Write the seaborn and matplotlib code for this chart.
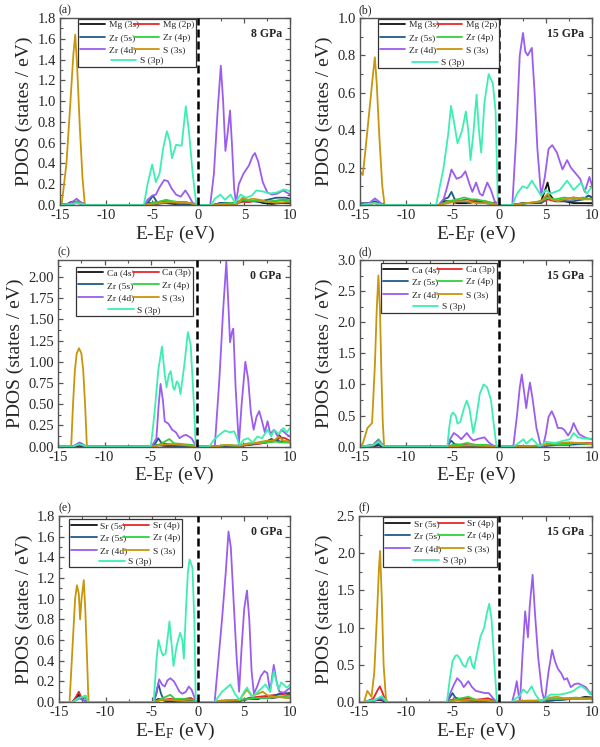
import matplotlib
matplotlib.use("Agg")
import matplotlib.pyplot as plt
import seaborn as sns
import pandas as pd
from matplotlib.patches import Rectangle
from matplotlib.ticker import MultipleLocator, FormatStrFormatter, AutoMinorLocator

# ---------------- data: (E - EF in eV, PDOS in states/eV) ----------------
# panel (a) Mg, 8 GPa
a_metal_s = [(-15, 0), (-13.8, 0.01), (-13.2, 0.02), (-12.6, 0.01), (-12.2, 0), (-5.8, 0), (-5.2, 0.02), (-4.6, 0.01), (-3.6, 0.02), (-2.6, 0.01), (-1.5, 0.01), (-0.3, 0.01), (0, 0), (1.6, 0), (2.5, 0.02), (3.2, 0.01), (4.0, 0.01), (4.7, 0.05), (5.3, 0.03), (6.2, 0.04), (7.0, 0.02), (8.0, 0.01), (9.0, 0.02), (10, 0.02)]
a_metal_p = [(-15, 0), (-13.8, 0.01), (-13.2, 0.03), (-12.5, 0.01), (-12.2, 0), (-5.8, 0), (-5.0, 0.02), (-4.2, 0.03), (-3.4, 0.04), (-2.6, 0.02), (-1.6, 0.03), (-0.5, 0.01), (0, 0), (1.6, 0), (2.8, 0.01), (4.0, 0.01), (4.8, 0.03), (5.6, 0.03), (6.5, 0.05), (7.5, 0.03), (8.5, 0.04), (9.4, 0.05), (10, 0.04)]
a_zr5s = [(-15, 0), (-14.2, 0.01), (-13.8, 0.03), (-13.2, 0.03), (-12.5, 0.01), (-12.2, 0), (-5.8, 0), (-5.4, 0.03), (-4.9, 0.09), (-4.5, 0.03), (-3.8, 0.02), (-3.0, 0.02), (-2.0, 0.01), (-0.5, 0.01), (0, 0), (1.6, 0), (2.5, 0.02), (3.5, 0.02), (4.2, 0.01), (4.8, 0.06), (5.5, 0.04), (6.5, 0.03), (7.5, 0.05), (8.5, 0.07), (9.5, 0.07), (10, 0.06)]
a_zr4p = [(-15, 0), (-13.6, 0.01), (-13.1, 0.04), (-12.6, 0.02), (-12.2, 0), (-5.8, 0), (-5.0, 0.02), (-4.3, 0.03), (-3.5, 0.05), (-3.0, 0.04), (-2.3, 0.03), (-1.5, 0.03), (-0.5, 0.01), (0, 0), (1.6, 0), (2.5, 0.01), (3.5, 0.02), (4.2, 0.01), (4.8, 0.05), (5.5, 0.04), (6.5, 0.04), (7.3, 0.03), (8.3, 0.04), (9.3, 0.05), (10, 0.04)]
a_zr4d = [(-15, 0), (-14, 0.01), (-13.5, 0.04), (-13.2, 0.06), (-12.8, 0.03), (-12.3, 0), (-5.8, 0), (-5.5, 0.05), (-5.0, 0.09), (-4.6, 0.1), (-4.2, 0.17), (-3.7, 0.24), (-3.3, 0.23), (-2.9, 0.16), (-2.4, 0.1), (-1.9, 0.08), (-1.4, 0.14), (-1.1, 0.1), (-0.6, 0.02), (0, 0), (1.3, 0), (1.7, 0.3), (2.1, 0.9), (2.45, 1.34), (2.7, 1.0), (2.95, 0.52), (3.2, 0.7), (3.45, 0.91), (3.65, 0.6), (3.9, 0.15), (4.1, 0.02), (4.4, 0.2), (4.9, 0.3), (5.5, 0.38), (5.9, 0.47), (6.15, 0.5), (6.5, 0.42), (7.0, 0.22), (7.5, 0.12), (8.0, 0.1), (8.6, 0.11), (9.2, 0.14), (9.6, 0.12), (10, 0.1)]
a_s3s = [(-15, 0), (-14.8, 0.02), (-14.3, 0.4), (-13.9, 0.95), (-13.55, 1.45), (-13.35, 1.64), (-13.15, 1.35), (-12.85, 0.75), (-12.55, 0.25), (-12.3, 0), (-5.8, 0), (-5.0, 0.01), (-4.0, 0.02), (-3.0, 0.03), (-2.0, 0.02), (-1.0, 0.02), (0, 0), (1.6, 0), (3.0, 0.01), (4.2, 0.01), (4.8, 0.07), (5.4, 0.05), (6.0, 0.06), (6.6, 0.05), (7.5, 0.03), (8.5, 0.02), (9.5, 0.03), (10, 0.03)]
a_s3p = [(-15, 0), (-13.6, 0.01), (-13.2, 0.02), (-12.6, 0.01), (-12.2, 0), (-5.9, 0), (-5.5, 0.2), (-5.0, 0.39), (-4.6, 0.22), (-4.2, 0.3), (-3.8, 0.55), (-3.4, 0.71), (-3.1, 0.62), (-2.85, 0.45), (-2.4, 0.58), (-1.8, 0.57), (-1.35, 0.95), (-1.0, 0.7), (-0.6, 0.3), (-0.2, 0), (1.4, 0), (1.8, 0.06), (2.4, 0.1), (2.9, 0.05), (3.5, 0.1), (4.0, 0.02), (4.6, 0.1), (5.2, 0.07), (5.8, 0.09), (6.3, 0.14), (7.0, 0.13), (7.8, 0.11), (8.5, 0.12), (9.3, 0.15), (9.7, 0.14), (10, 0.13)]

# panel (b) Mg, 15 GPa
b_metal_s = [(-15, 0), (-14, 0.01), (-13.4, 0.01), (-12.5, 0), (-6.5, 0), (-6.0, 0.02), (-5.5, 0.02), (-4.5, 0.01), (-3.5, 0.01), (-2.5, 0.02), (-1.5, 0.01), (-0.5, 0.01), (0, 0), (1.4, 0), (2.5, 0.01), (3.5, 0.01), (4.5, 0.02), (5.0, 0.09), (5.2, 0.12), (5.5, 0.05), (6.0, 0.02), (7.0, 0.02), (8.0, 0.01), (9.0, 0.01), (10, 0.01)]
b_metal_p = [(-15, 0), (-13.4, 0.01), (-12.5, 0), (-6.5, 0), (-5.5, 0.02), (-4.5, 0.02), (-3.5, 0.03), (-2.5, 0.02), (-1.5, 0.02), (0, 0), (1.4, 0), (3.0, 0.01), (4.5, 0.01), (5.2, 0.03), (6.0, 0.02), (7.0, 0.03), (8.0, 0.04), (9.0, 0.03), (9.6, 0.05), (10, 0.04)]
b_zr5s = [(-15, 0.01), (-14, 0.01), (-13.4, 0.02), (-12.5, 0), (-6.5, 0), (-6.0, 0.03), (-5.5, 0.04), (-5.15, 0.07), (-4.8, 0.03), (-4.0, 0.02), (-3.2, 0.01), (-2.5, 0.02), (-1.5, 0.01), (0, 0), (1.4, 0), (3.0, 0.01), (4.5, 0.01), (5.2, 0.05), (6.0, 0.02), (7.0, 0.02), (8.0, 0.02), (9.0, 0.03), (9.6, 0.05), (10, 0.04)]
b_zr4p = [(-15, 0), (-13.4, 0.01), (-12.5, 0), (-6.5, 0), (-5.5, 0.02), (-4.5, 0.03), (-3.8, 0.04), (-3.0, 0.03), (-2.5, 0.03), (-1.5, 0.02), (0, 0), (1.4, 0), (3.0, 0.01), (4.5, 0.02), (5.2, 0.04), (6.0, 0.03), (7.0, 0.04), (8.0, 0.03), (9.0, 0.04), (10, 0.03)]
b_zr4d = [(-15, 0), (-14, 0.01), (-13.4, 0.035), (-13.0, 0.02), (-12.5, 0), (-6.5, 0), (-6.0, 0.03), (-5.6, 0.1), (-5.15, 0.19), (-4.6, 0.14), (-4.1, 0.15), (-3.65, 0.18), (-3.2, 0.11), (-2.9, 0.07), (-2.5, 0.12), (-2.1, 0.06), (-1.8, 0.05), (-1.3, 0.12), (-0.9, 0.08), (-0.5, 0.02), (0, 0), (1.4, 0), (1.8, 0.35), (2.2, 0.8), (2.55, 0.92), (2.8, 0.82), (3.05, 0.8), (3.5, 0.84), (3.8, 0.6), (4.1, 0.3), (4.5, 0.05), (4.9, 0.15), (5.3, 0.3), (5.7, 0.32), (6.2, 0.28), (6.8, 0.19), (7.3, 0.24), (7.7, 0.2), (8.2, 0.17), (8.7, 0.14), (9.2, 0.07), (9.7, 0.15), (10, 0.1)]
b_s3s = [(-15, 0.18), (-14.7, 0.16), (-14.4, 0.3), (-14.0, 0.5), (-13.6, 0.7), (-13.4, 0.79), (-13.2, 0.65), (-12.9, 0.35), (-12.6, 0.1), (-12.35, 0), (-6.5, 0), (-5.5, 0.01), (-4.5, 0.02), (-3.5, 0.02), (-2.5, 0.01), (-1.5, 0.01), (0, 0), (1.4, 0), (3.0, 0.01), (4.5, 0.02), (5.2, 0.06), (5.6, 0.03), (6.3, 0.02), (7.0, 0.03), (8.0, 0.04), (9.0, 0.03), (10, 0.03)]
b_s3p = [(-15, 0), (-13.4, 0.01), (-12.5, 0), (-6.8, 0), (-6.4, 0.1), (-6.0, 0.2), (-5.5, 0.38), (-5.2, 0.53), (-4.9, 0.45), (-4.5, 0.33), (-4.0, 0.4), (-3.6, 0.5), (-3.35, 0.4), (-3.1, 0.24), (-2.8, 0.38), (-2.45, 0.59), (-2.2, 0.4), (-1.95, 0.28), (-1.6, 0.55), (-1.15, 0.7), (-0.7, 0.65), (-0.4, 0.5), (-0.15, 0), (1.4, 0), (1.9, 0.06), (2.5, 0.1), (3.0, 0.09), (3.5, 0.13), (4.0, 0.09), (4.5, 0.05), (5.0, 0.08), (5.5, 0.06), (6.5, 0.08), (7.3, 0.13), (8.0, 0.08), (8.8, 0.12), (9.4, 0.06), (10, 0.1)]

# panel (c) Ca, 0 GPa
c_metal_s = [(-15, 0), (-13.6, 0), (-12.7, 0.01), (-11.9, 0), (-4.9, 0), (-4.3, 0.02), (-3.5, 0.01), (-2.5, 0.01), (-1.0, 0.01), (0, 0), (1.9, 0), (3.0, 0.01), (4.5, 0.01), (5.5, 0.02), (6.5, 0.04), (7.3, 0.05), (8.0, 0.09), (8.5, 0.07), (8.9, 0.13), (9.3, 0.06), (10, 0.06)]
c_metal_p = [(-15, 0), (-13.5, 0), (-12.7, 0.03), (-11.9, 0), (-4.9, 0), (-4.0, 0.02), (-3.0, 0.03), (-2.0, 0.02), (-1.0, 0.02), (0, 0), (1.9, 0), (3.0, 0.01), (4.5, 0.01), (5.5, 0.02), (6.5, 0.03), (7.5, 0.05), (8.5, 0.07), (9.0, 0.11), (9.5, 0.1), (10, 0.07)]
c_zr5s = [(-15, 0), (-13.5, 0), (-12.8, 0.02), (-11.9, 0), (-4.9, 0), (-4.5, 0.04), (-4.2, 0.1), (-3.9, 0.05), (-3.0, 0.02), (-2.0, 0.01), (0, 0), (1.9, 0), (3.0, 0.01), (4.5, 0.01), (5.5, 0.03), (6.5, 0.04), (7.5, 0.05), (8.5, 0.08), (9.0, 0.06), (10, 0.05)]
c_zr4p = [(-15, 0), (-13.5, 0), (-12.5, 0.04), (-11.9, 0), (-4.9, 0), (-4.0, 0.03), (-3.0, 0.09), (-2.5, 0.04), (-1.5, 0.03), (-0.5, 0.02), (0, 0), (1.9, 0), (3.0, 0.02), (4.5, 0.01), (5.5, 0.04), (6.5, 0.04), (7.5, 0.05), (8.5, 0.06), (9.0, 0.05), (10, 0.05)]
c_zr4d = [(-15, 0), (-13.5, 0), (-13.0, 0.03), (-12.7, 0.05), (-12.3, 0.02), (-11.9, 0), (-4.9, 0), (-4.4, 0.1), (-4.15, 0.5), (-3.95, 0.74), (-3.7, 0.55), (-3.5, 0.3), (-3.1, 0.27), (-2.7, 0.2), (-2.3, 0.17), (-1.9, 0.1), (-1.5, 0.13), (-1.2, 0.14), (-0.6, 0.1), (-0.1, 0), (1.9, 0), (2.4, 0.8), (2.8, 1.6), (3.15, 2.18), (3.4, 1.6), (3.55, 1.23), (3.75, 1.35), (3.9, 1.39), (4.15, 0.7), (4.5, 0.02), (4.8, 0.5), (5.2, 1.0), (5.5, 0.8), (5.8, 0.4), (6.1, 0.2), (6.4, 0.35), (6.7, 0.42), (7.0, 0.3), (7.3, 0.17), (7.6, 0.3), (7.9, 0.15), (8.3, 0.2), (8.7, 0.12), (9.1, 0.2), (9.6, 0.15), (10, 0.12)]
c_s3s = [(-15, 0), (-13.6, 0), (-13.4, 0.5), (-13.2, 0.9), (-13.0, 1.1), (-12.75, 1.16), (-12.5, 1.1), (-12.3, 0.9), (-12.1, 0.5), (-11.9, 0), (-4.9, 0), (-4.0, 0.02), (-2.8, 0.03), (-1.5, 0.02), (0, 0), (1.9, 0), (3.0, 0.02), (4.5, 0.01), (5.5, 0.03), (6.5, 0.05), (7.5, 0.07), (8.4, 0.08), (8.8, 0.12), (9.3, 0.07), (10, 0.06)]
c_s3p = [(-15, 0), (-13.5, 0), (-12.7, 0.03), (-11.9, 0), (-5.0, 0), (-4.6, 0.4), (-4.2, 0.9), (-3.8, 1.18), (-3.5, 0.85), (-3.3, 0.7), (-3.05, 0.85), (-2.85, 0.89), (-2.6, 0.7), (-2.45, 0.67), (-2.2, 0.77), (-2.0, 0.74), (-1.8, 0.62), (-1.4, 0.95), (-1.0, 1.35), (-0.7, 1.2), (-0.35, 0.5), (-0.15, 0), (1.3, 0), (1.8, 0.08), (2.5, 0.15), (3.0, 0.19), (3.5, 0.17), (4.0, 0.18), (4.3, 0.1), (4.6, 0.02), (5.0, 0.08), (5.5, 0.1), (6.0, 0.05), (6.5, 0.12), (7.0, 0.1), (7.6, 0.2), (8.0, 0.12), (8.3, 0.2), (8.8, 0.15), (9.3, 0.22), (9.7, 0.17), (10, 0.22)]

# panel (d) Ca, 15 GPa
d_metal_s = [(-15, 0), (-13.5, 0.01), (-13.0, 0.02), (-12.4, 0), (-5.6, 0), (-5.0, 0.02), (-4.0, 0.01), (-3.0, 0.01), (-2.0, 0.01), (0, 0), (1.5, 0), (3.0, 0.01), (4.5, 0.01), (5.5, 0.03), (6.5, 0.03), (7.5, 0.04), (8.5, 0.06), (9.5, 0.05), (10, 0.05)]
d_metal_p = [(-15, 0), (-13.5, 0.02), (-13.0, 0.06), (-12.6, 0.02), (-12.4, 0), (-5.6, 0), (-5.0, 0.02), (-4.0, 0.03), (-3.0, 0.02), (-2.0, 0.03), (0, 0), (1.5, 0), (3.0, 0.01), (4.5, 0.01), (5.5, 0.03), (6.5, 0.04), (7.5, 0.05), (8.5, 0.05), (9.5, 0.06), (10, 0.05)]
d_zr5s = [(-15, 0), (-14, 0.02), (-13.2, 0.04), (-12.6, 0.02), (-12.4, 0), (-5.6, 0), (-5.2, 0.1), (-4.8, 0.04), (-4.0, 0.02), (-3.0, 0.01), (-1.5, 0.01), (0, 0), (1.5, 0), (3.0, 0.01), (4.5, 0.01), (5.5, 0.02), (6.5, 0.03), (7.5, 0.03), (8.5, 0.04), (9.5, 0.04), (10, 0.04)]
d_zr4p = [(-15, 0), (-13.6, 0.03), (-13.0, 0.12), (-12.7, 0.06), (-12.4, 0), (-5.6, 0), (-5.0, 0.03), (-4.0, 0.04), (-3.5, 0.06), (-2.5, 0.03), (-1.5, 0.03), (0, 0), (1.5, 0), (3.0, 0.01), (4.5, 0.02), (5.5, 0.04), (6.5, 0.03), (7.5, 0.04), (8.0, 0.06), (9.0, 0.05), (10, 0.04)]
d_zr4d = [(-15, 0), (-13.6, 0.02), (-13.1, 0.1), (-12.7, 0.04), (-12.4, 0), (-5.6, 0), (-5.3, 0.12), (-4.9, 0.22), (-4.5, 0.18), (-4.1, 0.12), (-3.5, 0.22), (-3.1, 0.14), (-2.8, 0.1), (-2.2, 0.13), (-1.6, 0.15), (-1.2, 0.08), (-0.9, 0.04), (-0.4, 0), (1.5, 0), (1.9, 0.5), (2.2, 0.95), (2.42, 1.16), (2.65, 0.9), (2.9, 0.62), (3.1, 0.85), (3.3, 1.03), (3.6, 0.75), (4.0, 0.3), (4.4, 0.05), (4.7, 0), (5.0, 0.2), (5.3, 0.48), (5.65, 0.57), (6.0, 0.45), (6.3, 0.3), (6.7, 0.3), (7.0, 0.27), (7.4, 0.18), (7.7, 0.25), (8.0, 0.38), (8.3, 0.28), (8.6, 0.2), (9.2, 0.15), (9.6, 0.13), (10, 0.12)]
d_s3s = [(-15, 0), (-14.7, 0.05), (-14.4, 0.2), (-14.2, 0.3), (-13.7, 0.38), (-13.4, 1.3), (-13.2, 2.2), (-13.02, 2.75), (-12.85, 2.2), (-12.7, 1.2), (-12.55, 0.4), (-12.4, 0), (-5.6, 0), (-4.5, 0.01), (-3.0, 0.02), (-1.5, 0.01), (0, 0), (1.5, 0), (3.0, 0.01), (4.5, 0.02), (5.5, 0.05), (6.5, 0.06), (7.5, 0.07), (8.5, 0.06), (9.5, 0.05), (10, 0.04)]
d_s3p = [(-15, 0), (-13.6, 0.02), (-13.0, 0.08), (-12.6, 0.02), (-12.4, 0), (-5.6, 0), (-5.4, 0.3), (-5.2, 0.5), (-5.0, 0.55), (-4.7, 0.5), (-4.5, 0.37), (-4.2, 0.4), (-3.8, 0.62), (-3.5, 0.74), (-3.2, 0.6), (-3.0, 0.4), (-2.8, 0.22), (-2.5, 0.45), (-2.1, 0.85), (-1.7, 1.0), (-1.3, 0.95), (-0.9, 0.75), (-0.55, 0.3), (-0.3, 0), (1.5, 0), (2.0, 0.05), (2.6, 0.12), (2.9, 0.05), (3.5, 0.13), (3.9, 0.07), (4.3, 0.0), (5.0, 0.08), (6.0, 0.06), (7.0, 0.1), (7.6, 0.12), (8.0, 0.22), (8.5, 0.15), (9.2, 0.13), (10, 0.13)]

# panel (e) Sr, 0 GPa
e_metal_s = [(-15, 0), (-13.6, 0), (-13.3, 0.03), (-12.9, 0.07), (-12.6, 0.03), (-12.2, 0.05), (-11.9, 0), (-4.8, 0), (-4.3, 0.03), (-3.5, 0.01), (-2.5, 0.01), (-1.0, 0.02), (0, 0), (1.8, 0), (3.0, 0.01), (4.5, 0.01), (5.5, 0.03), (6.5, 0.03), (7.3, 0.05), (8.0, 0.04), (9.0, 0.05), (10, 0.04)]
e_metal_p = [(-15, 0), (-13.6, 0), (-13.2, 0.05), (-12.9, 0.1), (-12.6, 0.04), (-12.2, 0.06), (-11.9, 0), (-4.8, 0), (-4.0, 0.02), (-3.0, 0.03), (-2.0, 0.02), (-0.8, 0.04), (0, 0), (1.8, 0), (3.0, 0.01), (4.5, 0.01), (5.5, 0.04), (6.5, 0.05), (7.5, 0.06), (8.5, 0.07), (9.5, 0.08), (10, 0.07)]
e_zr5s = [(-15, 0), (-13.6, 0), (-12.9, 0.05), (-12.5, 0.02), (-11.9, 0), (-4.8, 0), (-4.5, 0.08), (-4.3, 0.18), (-4.0, 0.08), (-3.7, 0.02), (-3.0, 0.02), (-2.0, 0.01), (0, 0), (1.8, 0), (3.0, 0.01), (4.5, 0.02), (5.5, 0.03), (6.5, 0.04), (7.5, 0.04), (8.5, 0.07), (9.2, 0.09), (10, 0.08)]
e_zr4p = [(-15, 0), (-13.6, 0), (-12.9, 0.03), (-12.2, 0.05), (-11.9, 0), (-4.8, 0), (-4.0, 0.03), (-3.0, 0.07), (-2.5, 0.03), (-1.5, 0.03), (-0.5, 0.02), (0, 0), (1.8, 0), (3.0, 0.01), (4.5, 0.02), (5.5, 0.03), (6.5, 0.04), (7.5, 0.04), (8.5, 0.05), (9.5, 0.06), (10, 0.06)]
e_zr4d = [(-15, 0), (-13.6, 0), (-12.9, 0.04), (-12.4, 0.02), (-11.9, 0), (-4.8, 0), (-4.5, 0.1), (-4.2, 0.22), (-3.9, 0.17), (-3.6, 0.15), (-3.3, 0.21), (-3.0, 0.23), (-2.6, 0.2), (-2.3, 0.15), (-2.0, 0.1), (-1.7, 0.08), (-1.3, 0.1), (-1.0, 0.15), (-0.7, 0.12), (-0.4, 0.05), (-0.2, 0), (1.8, 0), (2.2, 0.4), (2.6, 0.8), (3.0, 1.25), (3.3, 1.65), (3.55, 1.5), (3.9, 0.9), (4.2, 0.4), (4.45, 0.1), (4.7, 0.5), (5.0, 0.9), (5.3, 1.08), (5.55, 0.8), (5.8, 0.3), (6.05, 0.08), (6.4, 0.15), (6.8, 0.25), (7.2, 0.3), (7.5, 0.28), (7.8, 0.1), (8.2, 0.36), (8.5, 0.2), (8.8, 0.1), (9.3, 0.09), (9.7, 0.12), (10, 0.14)]
e_s3s = [(-15, 0), (-13.9, 0), (-13.6, 0.5), (-13.3, 1.0), (-13.1, 1.13), (-12.9, 1.05), (-12.76, 0.8), (-12.6, 1.0), (-12.36, 1.18), (-12.2, 0.9), (-12.0, 0.4), (-11.85, 0), (-4.8, 0), (-4.0, 0.02), (-3.0, 0.02), (-1.5, 0.01), (0, 0), (1.8, 0), (3.0, 0.02), (4.5, 0.02), (5.3, 0.12), (5.8, 0.06), (6.5, 0.08), (7.0, 0.1), (7.6, 0.06), (8.5, 0.05), (9.5, 0.04), (10, 0.04)]
e_s3p = [(-15, 0), (-13.6, 0), (-12.9, 0.04), (-12.1, 0.06), (-11.9, 0), (-4.8, 0), (-4.5, 0.4), (-4.28, 0.6), (-4.0, 0.5), (-3.8, 0.45), (-3.5, 0.47), (-3.25, 0.65), (-3.09, 0.78), (-2.9, 0.6), (-2.65, 0.35), (-2.3, 0.55), (-1.93, 0.67), (-1.7, 0.6), (-1.53, 0.42), (-1.3, 0.9), (-1.1, 1.25), (-0.92, 1.38), (-0.6, 1.3), (-0.4, 0.8), (-0.24, 0), (1.8, 0), (2.2, 0.05), (2.6, 0.1), (3.0, 0.13), (3.5, 0.17), (4.0, 0.08), (4.5, 0.02), (5.0, 0.1), (5.3, 0.14), (5.9, 0.05), (6.5, 0.1), (7.3, 0.17), (7.8, 0.1), (8.2, 0.3), (8.7, 0.12), (9.0, 0.19), (9.6, 0.14), (10, 0.17)]

# panel (f) Sr, 15 GPa
f_metal_s = [(-15, 0), (-14.5, 0), (-13.5, 0.02), (-12.8, 0.03), (-12.0, 0), (-5.6, 0), (-5.0, 0.03), (-4.0, 0.02), (-3.0, 0.02), (-1.5, 0.02), (0, 0), (1.4, 0), (3.0, 0.01), (4.5, 0.01), (5.5, 0.02), (6.5, 0.03), (7.5, 0.04), (8.5, 0.05), (9.3, 0.07), (10, 0.06)]
f_metal_p = [(-15, 0), (-14.5, 0), (-13.8, 0.03), (-13.5, 0.05), (-13.0, 0.17), (-12.8, 0.21), (-12.5, 0.12), (-12.2, 0.02), (-12.0, 0), (-5.6, 0), (-5.0, 0.03), (-4.2, 0.04), (-3.2, 0.05), (-2.5, 0.03), (-1.2, 0.05), (0, 0), (1.4, 0), (3.0, 0.01), (4.5, 0.01), (5.5, 0.03), (6.5, 0.04), (7.5, 0.05), (8.5, 0.05), (9.5, 0.06), (10, 0.05)]
f_zr5s = [(-15, 0), (-14.5, 0), (-13.3, 0.03), (-12.7, 0.05), (-12.0, 0), (-5.6, 0), (-5.3, 0.06), (-5.0, 0.12), (-4.7, 0.06), (-4.0, 0.03), (-3.0, 0.02), (-1.5, 0.01), (0, 0), (1.4, 0), (3.0, 0.01), (4.5, 0.01), (5.5, 0.02), (6.5, 0.03), (7.5, 0.04), (8.5, 0.04), (9.5, 0.06), (10, 0.05)]
f_zr4p = [(-15, 0), (-14.5, 0), (-13.3, 0.03), (-12.7, 0.06), (-12.0, 0), (-5.6, 0), (-4.5, 0.04), (-3.3, 0.07), (-2.5, 0.03), (-1.5, 0.03), (0, 0), (1.4, 0), (3.0, 0.01), (4.5, 0.02), (5.5, 0.04), (6.5, 0.04), (7.5, 0.05), (8.2, 0.06), (9.0, 0.05), (10, 0.05)]
f_zr4d = [(-15, 0), (-14.5, 0), (-13.3, 0.02), (-12.8, 0.05), (-12.0, 0), (-5.6, 0), (-5.3, 0.1), (-4.9, 0.22), (-4.5, 0.32), (-4.1, 0.27), (-3.8, 0.2), (-3.3, 0.28), (-2.9, 0.2), (-2.5, 0.15), (-1.5, 0.12), (-1.1, 0.12), (-0.7, 0.06), (-0.3, 0), (1.4, 0), (1.7, 0.15), (1.9, 0.28), (2.1, 0.1), (2.25, 0), (2.5, 0.6), (2.8, 1.22), (2.95, 1.05), (3.1, 0.87), (3.3, 1.3), (3.6, 1.71), (3.85, 1.2), (4.2, 0.6), (4.6, 0.15), (4.9, 0), (5.3, 0.4), (5.7, 0.7), (6.0, 0.55), (6.3, 0.45), (6.7, 0.38), (7.0, 0.3), (7.3, 0.32), (7.7, 0.2), (8.1, 0.24), (8.5, 0.25), (9.0, 0.22), (9.3, 0.2), (9.8, 0.12), (10, 0.1)]
f_s3s = [(-15, 0), (-14.5, 0), (-14.15, 0.15), (-13.7, 0.07), (-13.4, 0.4), (-13.1, 1.2), (-12.9, 1.8), (-12.78, 2.03), (-12.6, 1.4), (-12.4, 0.5), (-12.15, 0.05), (-12.0, 0), (-5.6, 0), (-4.5, 0.02), (-3.0, 0.03), (-1.5, 0.02), (0, 0), (1.4, 0), (3.0, 0.02), (4.5, 0.02), (5.5, 0.06), (6.2, 0.07), (7.0, 0.05), (8.0, 0.04), (9.0, 0.04), (10, 0.04)]
f_s3p = [(-15, 0), (-14.5, 0), (-13.3, 0.03), (-12.6, 0.08), (-12.2, 0.02), (-12.0, 0), (-5.6, 0), (-5.3, 0.3), (-5.0, 0.55), (-4.7, 0.62), (-4.5, 0.63), (-4.2, 0.58), (-3.9, 0.5), (-3.6, 0.47), (-3.3, 0.58), (-3.1, 0.61), (-2.9, 0.5), (-2.7, 0.45), (-2.3, 0.7), (-2.0, 0.88), (-1.6, 1.0), (-1.3, 1.2), (-1.06, 1.32), (-0.8, 1.1), (-0.5, 0.5), (-0.23, 0), (1.4, 0), (1.8, 0.05), (2.2, 0.08), (2.6, 0.17), (3.0, 0.12), (3.5, 0.21), (3.9, 0.1), (4.5, 0), (5.0, 0.05), (5.5, 0.1), (6.5, 0.1), (7.3, 0.12), (8.0, 0.15), (8.3, 0.18), (8.8, 0.22), (9.5, 0.15), (9.8, 0.1), (10, 0.15)]

panel_tags = ["(a)", "(b)", "(c)", "(d)", "(e)", "(f)"]
pressures = ["8 GPa", "15 GPa", "0 GPa", "15 GPa", "0 GPa", "15 GPa"]
metal_names = [("Mg (3s)", "Mg (2p)"), ("Mg (3s)", "Mg (2p)"),
               ("Ca (4s)", "Ca (3p)"), ("Ca (4s)", "Ca (3p)"),
               ("Sr (5s)", "Sr (4p)"), ("Sr (5s)", "Sr (4p)")]
y_max = [1.8, 1.0, 2.2, 3.0, 1.8, 2.5]
y_step = [0.2, 0.2, 0.25, 0.5, 0.2, 0.5]
y_fmt = ["%.1f", "%.1f", "%.2f", "%.1f", "%.1f", "%.1f"]
curves = [
    [a_metal_s, a_metal_p, a_zr5s, a_zr4p, a_zr4d, a_s3s, a_s3p],
    [b_metal_s, b_metal_p, b_zr5s, b_zr4p, b_zr4d, b_s3s, b_s3p],
    [c_metal_s, c_metal_p, c_zr5s, c_zr4p, c_zr4d, c_s3s, c_s3p],
    [d_metal_s, d_metal_p, d_zr5s, d_zr4p, d_zr4d, d_s3s, d_s3p],
    [e_metal_s, e_metal_p, e_zr5s, e_zr4p, e_zr4d, e_s3s, e_s3p],
    [f_metal_s, f_metal_p, f_zr5s, f_zr4p, f_zr4d, f_s3s, f_s3p],
]

# ---------------- style ----------------
colors = ["#111111", "#e8262a", "#1f5a8a", "#2fd13a", "#9b5cf0", "#c8960c", "#3cefb0"]

# axes rectangles [left, bottom, width, height] in figure fraction
axes_pos = [[0.100, 0.7256, 0.384, 0.2503], [0.600, 0.7256, 0.387, 0.2503],
            [0.097, 0.4020, 0.386, 0.2500], [0.600, 0.4020, 0.387, 0.2500],
            [0.099, 0.0602, 0.385, 0.2490], [0.599, 0.0602, 0.388, 0.2490]]
# legend box in axes fraction (x0, y0, x1, y1)
legend_box = [(0.077, 0.74, 0.591, 0.996), (0.076, 0.73, 0.60, 0.996),
              (0.076, 0.70, 0.583, 0.964), (0.090, 0.718, 0.59, 0.982),
              (0.043, 0.724, 0.530, 0.982), (0.100, 0.727, 0.590, 0.993)]

sns.set_style("ticks")
plt.rcParams["font.family"] = ["Liberation Serif", "DejaVu Serif"]
plt.rcParams["mathtext.fontset"] = "custom"
plt.rcParams["mathtext.rm"] = "Liberation Serif"
plt.rcParams["mathtext.it"] = "Liberation Serif:italic"
plt.rcParams["axes.unicode_minus"] = False

fig = plt.figure(figsize=(6.0, 7.47), dpi=100)
frame_col = "#555555"

for i in range(6):
    ax = fig.add_axes(axes_pos[i])
    s_lab, p_lab = metal_names[i]
    labels = [s_lab, p_lab, "Zr (5s)", "Zr (4p)", "Zr (4d)", "S (3s)", "S (3p)"]
    handles = []
    for pts, col, lab in zip(curves[i], colors, labels):
        df = pd.DataFrame(pts, columns=["E", "PDOS"])
        sns.lineplot(data=df, x="E", y="PDOS", ax=ax, color=col, lw=1.3,
                     sort=False, estimator=None, legend=False)
        handles.append(ax.lines[-1])

    ax.axvline(0, color="black", lw=1.8, ls=(0, (3.2, 1.6)), zorder=3)

    ax.set_xlim(-15, 10)
    ax.set_ylim(0, y_max[i])
    ax.xaxis.set_major_locator(MultipleLocator(5))
    ax.xaxis.set_minor_locator(MultipleLocator(2.5))
    ax.yaxis.set_major_locator(MultipleLocator(y_step[i]))
    ax.yaxis.set_minor_locator(AutoMinorLocator(2))
    ax.yaxis.set_major_formatter(FormatStrFormatter(y_fmt[i]))
    ax.tick_params(which="both", direction="in", top=True, right=True,
                   color=frame_col, labelsize=10.5, pad=3)
    ax.tick_params(which="major", length=3.5, width=0.9)
    ax.tick_params(which="minor", length=2, width=0.8)
    for sp in ax.spines.values():
        sp.set_color(frame_col)
        sp.set_linewidth(1.0)

    ax.set_xlabel(r"E-E$_\mathrm{F}$ (eV)", fontsize=14, labelpad=1)
    ax.set_ylabel("PDOS (states / eV)", fontsize=14, labelpad=3)

    ax.text(-0.005, 1.04, panel_tags[i], transform=ax.transAxes,
            fontsize=8.5, ha="left", va="center")
    ax.text(0.965, 0.915, pressures[i], transform=ax.transAxes,
            fontsize=8.5, fontweight="bold", ha="right", va="center")

    # legend: six entries in two columns, S (3p) centred beneath, one frame
    x0, y0, x1, y1 = legend_box[i]
    bw, bh = x1 - x0, y1 - y0
    ax.add_patch(Rectangle((x0, y0), bw, bh, transform=ax.transAxes,
                           facecolor="white", edgecolor="#333333", lw=0.9, zorder=4))
    order = [0, 2, 4, 1, 3, 5]
    leg1 = ax.legend([handles[k] for k in order], [labels[k] for k in order],
                     ncol=2, loc="upper left", bbox_to_anchor=(x0, y0, bw, bh),
                     mode="expand", frameon=False, fontsize=6.8, borderaxespad=0,
                     borderpad=0.2, handlelength=2.7, handletextpad=0.4,
                     labelspacing=0.42, columnspacing=0.6)
    leg1.set_zorder(5)
    ax.add_artist(leg1)
    leg2 = ax.legend([handles[6]], [labels[6]], loc="lower center",
                     bbox_to_anchor=(x0, y0, bw, bh), frameon=False,
                     fontsize=6.8, borderaxespad=0, borderpad=0.15,
                     handlelength=2.7, handletextpad=0.4)
    leg2.set_zorder(5)

fig.savefig("out.png", dpi=100)
